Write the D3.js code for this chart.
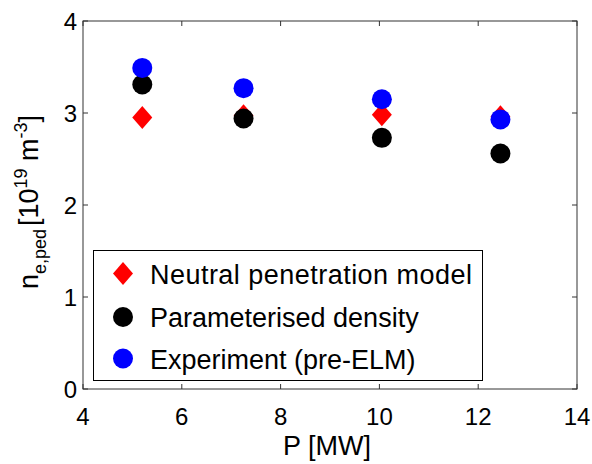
<!DOCTYPE html>
<html>
<head>
<meta charset="utf-8">
<script src="https://cdn.jsdelivr.net/npm/d3@7"></script>
<style>
  body{margin:0;background:#fff}
  svg{display:block;font-family:"Liberation Sans",Arial,Helvetica,sans-serif}
</style>
</head>
<body>
<svg id="chart" width="592" height="464"></svg>
<script>
// data
const power=[5.2, 7.25, 10.05, 12.45]       // P [MW]
const neutral=[2.95, 2.97, 2.98, 2.96]      // neutral penetration model
const param=[3.31, 2.94, 2.73, 2.56]        // parameterised density
const expt=[3.49, 3.27, 3.15, 2.93]         // experiment (pre-ELM)
const xTicks=[4,6,8,10,12,14]
const yTicks=[0,1,2,3,4]
const legendNames=["Neutral penetration model","Parameterised density","Experiment (pre-ELM)"]

const W=592, H=464
const m={left:83, right:15, top:21, bottom:75}
const svg=d3.select("#chart")

const x=d3.scaleLinear().domain([4,14]).range([m.left, W-m.right])
const y=d3.scaleLinear().domain([0,4]).range([H-m.bottom, m.top])
const axCol="#333", tl=5

const g=svg.append("g")
// box
g.append("rect").attr("x",x(4)).attr("y",y(4))
  .attr("width",x(14)-x(4)).attr("height",y(0)-y(4))
  .attr("fill","none").attr("stroke",axCol).attr("stroke-width",1)

// ticks inside, all four sides (matlab style)
xTicks.forEach(t=>{
  g.append("line").attr("x1",x(t)).attr("x2",x(t)).attr("y1",y(0)).attr("y2",y(0)-tl).attr("stroke",axCol)
  g.append("line").attr("x1",x(t)).attr("x2",x(t)).attr("y1",y(4)).attr("y2",y(4)+tl).attr("stroke",axCol)
  g.append("text").attr("x",x(t)).attr("y",y(0)+36).attr("text-anchor","middle")
    .attr("font-size",24).attr("fill","#000").text(t)
})
yTicks.forEach(t=>{
  g.append("line").attr("x1",x(4)).attr("x2",x(4)+tl).attr("y1",y(t)).attr("y2",y(t)).attr("stroke",axCol)
  g.append("line").attr("x1",x(14)).attr("x2",x(14)-tl).attr("y1",y(t)).attr("y2",y(t)).attr("stroke",axCol)
  g.append("text").attr("x",x(4)-6).attr("y",y(t)+9).attr("text-anchor","end")
    .attr("font-size",24).attr("fill","#000").text(t)
})

// axis labels
svg.append("text").attr("x",327).attr("y",455).attr("text-anchor","middle")
  .attr("font-size",27).text("P [MW]")

const yl=svg.append("text").attr("transform","translate(38,202) rotate(-90)")
  .attr("text-anchor","middle").attr("font-size",27)
yl.append("tspan").text("n")
yl.append("tspan").attr("font-size",18).attr("dy",8).text("e,ped")
yl.append("tspan").attr("dy",-8).attr("dx",3).text("[10")
yl.append("tspan").attr("font-size",18).attr("dy",-11).text("19")
yl.append("tspan").attr("dy",11).text(" m")
yl.append("tspan").attr("font-size",18).attr("dy",-11).text("-3")
yl.append("tspan").attr("dy",11).text("]")

// markers
const diamond=(cx,cy)=>`M${cx},${cy-11.5}L${cx+10},${cy}L${cx},${cy+11.5}L${cx-10},${cy}Z`
const pts=svg.append("g")
pts.selectAll(".nm").data(power.map((p,i)=>[p,neutral[i]])).join("path")
  .attr("d",d=>diamond(x(d[0]),y(d[1]))).attr("fill","#ff0000")
pts.selectAll(".pd").data(power.map((p,i)=>[p,param[i]])).join("circle")
  .attr("cx",d=>x(d[0])).attr("cy",d=>y(d[1])).attr("r",10).attr("fill","#000")
pts.selectAll(".ex").data(power.map((p,i)=>[p,expt[i]])).join("circle")
  .attr("cx",d=>x(d[0])).attr("cy",d=>y(d[1])).attr("r",10).attr("fill","#0000ff")

// legend
const lg=svg.append("g")
lg.append("rect").attr("x",93.5).attr("y",250.5).attr("width",389).attr("height",130)
  .attr("fill","#fff").attr("stroke","#000").attr("stroke-width",1)
const rowY=[273.5,317,358.5]
lg.append("path").attr("d",diamond(123,rowY[0])).attr("fill","#ff0000")
lg.append("circle").attr("cx",123).attr("cy",rowY[1]).attr("r",10).attr("fill","#000")
lg.append("circle").attr("cx",123).attr("cy",rowY[2]).attr("r",10).attr("fill","#0000ff")
legendNames.forEach((n,i)=>{
  lg.append("text").attr("x",150).attr("y",rowY[i]+10).attr("font-size",27)
    .attr("textLength",i==0?322:null).text(n)
})
</script>
</body>
</html>
